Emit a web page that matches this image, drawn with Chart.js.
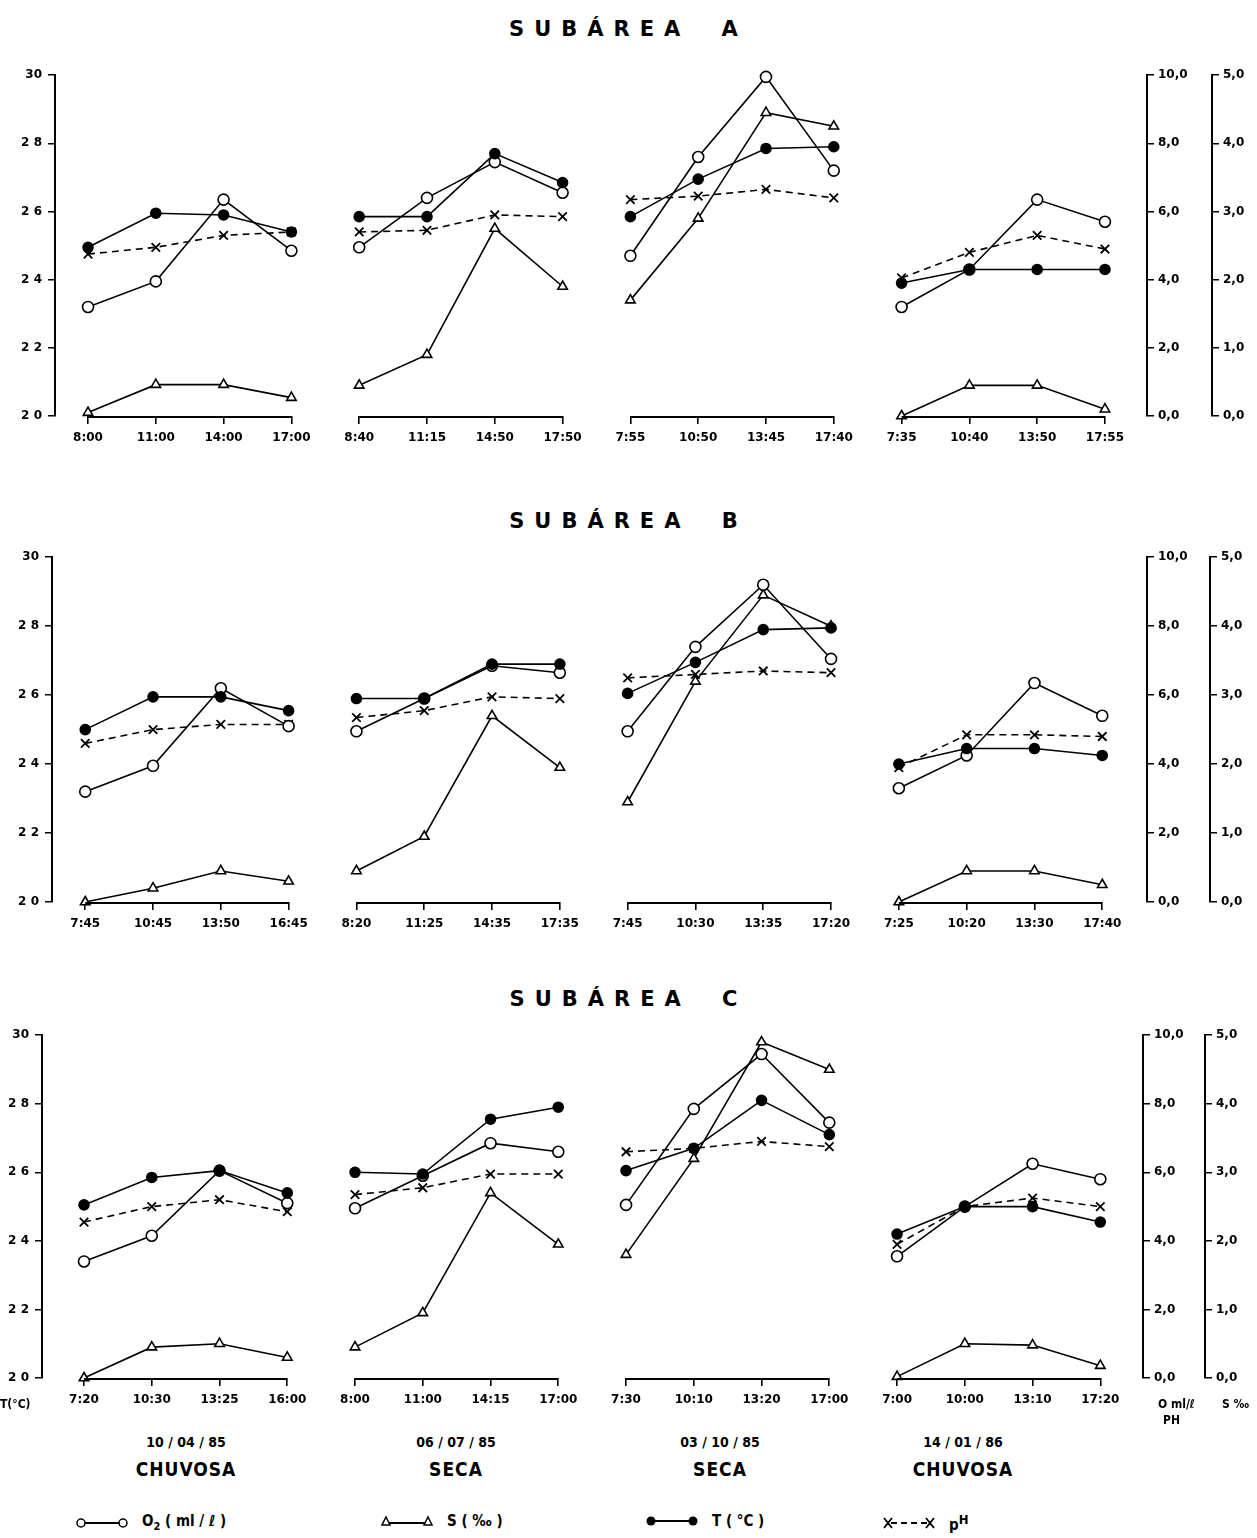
<!DOCTYPE html>
<html>
<head>
<meta charset="utf-8">
<script src="https://cdn.jsdelivr.net/npm/chart.js@4.4.0/dist/chart.umd.min.js"></script>
<style>
body { margin: 0; background: #fff; }
#page { position: relative; width: 1257px; height: 1538px; font-family: "DejaVu Sans Condensed", "DejaVu Sans", sans-serif; font-weight: bold; color: #000; }
#page canvas { position: absolute; left: 0; }
.title { position: absolute; left: 0; width: 1257px; text-align: center; font-size: 21px; letter-spacing: 10px; word-spacing: 14px; font-family: "DejaVu Sans", sans-serif; }
.lbl { position: absolute; font-size: 12px; white-space: nowrap; }
.date { position: absolute; font-size: 14px; transform: translateX(-50%); white-space: nowrap; }
.season { position: absolute; font-size: 19px; letter-spacing: 1px; transform: translateX(-50%); white-space: nowrap; }
.leg { position: absolute; top: 1512px; font-size: 15px; white-space: nowrap; display: flex; align-items: center; gap: 14px; }
</style>
</head>
<body>
<div id="page">
  <div class="title" style="top:17px">SUBÁREA A</div>
  <div class="title" style="top:509px">SUBÁREA B</div>
  <div class="title" style="top:987px">SUBÁREA C</div>
  <canvas id="chartA" width="1257" height="399" style="top:62px"></canvas>
  <canvas id="chartB" width="1257" height="403" style="top:544px"></canvas>
  <canvas id="chartC" width="1257" height="401" style="top:1022px"></canvas>
  <div class="lbl" style="left:0px;top:1397px">T(°C)</div>
  <div class="lbl" style="left:1158px;top:1397px">O ml/ℓ</div>
  <div class="lbl" style="left:1163px;top:1413px">PH</div>
  <div class="lbl" style="left:1222px;top:1397px">S ‰</div>
  <div id="bottom"></div>
  <div class="leg" style="left:76px"><svg width="52" height="14"><line x1="5" y1="7" x2="47" y2="7" stroke="#000" stroke-width="2"/><circle cx="5" cy="7" r="4" fill="#fff" stroke="#000" stroke-width="1.5"/><circle cx="47" cy="7" r="4" fill="#fff" stroke="#000" stroke-width="1.5"/></svg><span>O<sub style="font-size:11px">2</sub> ( ml / ℓ )</span></div>
  <div class="leg" style="left:381px"><svg width="52" height="14"><line x1="5" y1="9" x2="47" y2="9" stroke="#000" stroke-width="2"/><polygon points="5,3 9,11 1,11" fill="#fff" stroke="#000" stroke-width="1.5"/><polygon points="47,3 51,11 43,11" fill="#fff" stroke="#000" stroke-width="1.5"/></svg><span>S ( ‰ )</span></div>
  <div class="leg" style="left:646px"><svg width="52" height="14"><line x1="5" y1="7" x2="47" y2="7" stroke="#000" stroke-width="2"/><circle cx="5" cy="7" r="4.5" fill="#000"/><circle cx="47" cy="7" r="4.5" fill="#000"/></svg><span>T ( °C )</span></div>
  <div class="leg" style="left:883px"><svg width="52" height="14"><line x1="8" y1="7" x2="44" y2="7" stroke="#000" stroke-width="2" stroke-dasharray="6,4"/><path d="M1,2 L9,12 M9,2 L1,12 M43,2 L51,12 M51,2 L43,12" stroke="#000" stroke-width="1.8"/></svg><span>p<sup style="font-size:13px">H</sup></span></div>
</div>
<script>
// campaign dates and seasons
var dates = ['10/04/85', '06/07/85', '03/10/85', '14/01/86'];
var seasons = ['CHUVOSA', 'SECA', 'SECA', 'CHUVOSA'];

// SUBAREA A
var timesA = ['8:00', '11:00', '14:00', '17:00', '8:40', '11:15', '14:50', '17:50',
              '7:55', '10:50', '13:45', '17:40', '7:35', '10:40', '13:50', '17:55'];
var o2A   = [3.2, 3.95, 6.35, 4.85, 4.95, 6.4, 7.45, 6.55, 4.7, 7.6, 9.95, 7.2, 3.2, 4.3, 6.35, 5.7];
var salA  = [0.05, 0.46, 0.46, 0.27, 0.45, 0.9, 2.75, 1.9, 1.7, 2.9, 4.45, 4.25, 0.0, 0.45, 0.45, 0.1];
var tempA = [24.95, 25.95, 25.9, 25.4, 25.85, 25.85, 27.7, 26.85, 25.85, 26.95, 27.85, 27.9, 23.9, 24.3, 24.3, 24.3];
var phA   = [4.75, 4.95, 5.3, 5.4, 5.4, 5.45, 5.9, 5.85, 6.35, 6.45, 6.65, 6.4, 4.05, 4.8, 5.3, 4.9];

// SUBAREA B
var timesB = ['7:45', '10:45', '13:50', '16:45', '8:20', '11:25', '14:35', '17:35',
              '7:45', '10:30', '13:35', '17:20', '7:25', '10:20', '13:30', '17:40'];
var o2B   = [3.2, 3.95, 6.2, 5.1, 4.95, 5.9, 6.85, 6.65, 4.95, 7.4, 9.2, 7.05, 3.3, 4.25, 6.35, 5.4];
var salB  = [0.0, 0.2, 0.45, 0.3, 0.45, 0.95, 2.7, 1.95, 1.45, 3.2, 4.45, 4.0, 0.0, 0.45, 0.45, 0.25];
var tempB = [25.0, 25.95, 25.95, 25.55, 25.9, 25.9, 26.9, 26.9, 26.05, 26.95, 27.9, 27.95, 24.0, 24.45, 24.45, 24.25];
var phB   = [4.6, 5.0, 5.15, 5.15, 5.35, 5.55, 5.95, 5.9, 6.5, 6.6, 6.7, 6.65, 3.9, 4.85, 4.85, 4.8];

// SUBAREA C
var timesC = ['7:20', '10:30', '13:25', '16:00', '8:00', '11:00', '14:15', '17:00',
              '7:30', '10:10', '13:20', '17:00', '7:00', '10:00', '13:10', '17:20'];
var o2C   = [3.4, 4.15, 6.05, 5.1, 4.95, 5.9, 6.85, 6.6, 5.05, 7.85, 9.45, 7.45, 3.55, 5.0, 6.25, 5.8];
var salC  = [0.0, 0.45, 0.5, 0.3, 0.45, 0.95, 2.7, 1.95, 1.8, 3.2, 4.9, 4.5, 0.02, 0.5, 0.48, 0.18];
var tempC = [25.05, 25.85, 26.05, 25.4, 26.0, 25.95, 27.55, 27.9, 26.05, 26.7, 28.1, 27.1, 24.2, 25.0, 25.0, 24.55];
var phC   = [4.55, 5.0, 5.2, 4.85, 5.35, 5.55, 5.95, 5.95, 6.6, 6.7, 6.9, 6.75, 3.9, 5.0, 5.25, 5.0];

var tempTicks = [20, 22, 24, 26, 28, 30];

Chart.defaults.font.family = '"DejaVu Sans", sans-serif';
Chart.defaults.font.size = 12;
Chart.defaults.font.weight = 'bold';
Chart.defaults.color = '#000';

// bottom date / season labels
var centers = [186, 456, 720, 963];
var html = '';
dates.forEach(function (d, i) {
    html += '<div class="date" style="left:' + centers[i] + 'px;top:1434px">' + d.split('/').join(' / ') + '</div>';
    html += '<div class="season" style="left:' + centers[i] + 'px;top:1458px">' + seasons[i] + '</div>';
});
document.getElementById('bottom').innerHTML = html;

// the x axis is drawn as one short line per campaign
var axisSegments = {
    id: 'axisSegments',
    afterDraw: function (chart) {
        var xs = chart.scales.x, ctx = chart.ctx, y = chart.chartArea.bottom + 1;
        ctx.save();
        ctx.strokeStyle = '#000';
        ctx.lineWidth = 2;
        for (var k = 0; k < 4; k++) {
            ctx.beginPath();
            ctx.moveTo(xs.getPixelForValue(k * 4), y);
            ctx.lineTo(xs.getPixelForValue(k * 4 + 3), y);
            ctx.stroke();
        }
        ctx.restore();
    }
};

function pts(vals) {
    return vals.map(function (v, i) { return { x: i, y: v }; });
}

// no line between the last time of one campaign and the first of the next
function gap(color) {
    return function (c) { return c.p0DataIndex % 4 === 3 ? 'rgba(0,0,0,0)' : color; };
}

function comma(v) { return v.toFixed(1).replace('.', ','); }

function makeChart(id, times, o2, sal, temp, ph, g) {
    var ctx = document.getElementById(id).getContext('2d');
    return new Chart(ctx, {
        type: 'line',
        data: {
            datasets: [{
                label: 'T (°C)',
                data: pts(temp),
                yAxisID: 'y',
                borderColor: '#000',
                backgroundColor: '#000',
                pointBackgroundColor: '#000',
                pointStyle: 'circle',
                pointRadius: 5,
                borderWidth: 1.6,
                segment: { borderColor: gap('#000') }
            }, {
                label: 'O2 (ml/l)',
                data: pts(o2),
                yAxisID: 'y2',
                borderColor: '#000',
                pointBackgroundColor: '#fff',
                pointStyle: 'circle',
                pointRadius: 5.5,
                pointBorderWidth: 1.6,
                borderWidth: 1.6,
                segment: { borderColor: gap('#000') }
            }, {
                label: 'S (‰)',
                data: pts(sal),
                yAxisID: 'y3',
                borderColor: '#000',
                pointBackgroundColor: '#fff',
                pointStyle: 'triangle',
                pointRadius: 5.5,
                pointBorderWidth: 1.6,
                borderWidth: 1.6,
                segment: { borderColor: gap('#000') }
            }, {
                label: 'pH',
                data: pts(ph),
                yAxisID: 'y2',
                borderColor: '#000',
                pointStyle: 'crossRot',
                pointRadius: 6,
                pointBorderWidth: 1.8,
                borderWidth: 1.6,
                borderDash: [7, 5],
                segment: { borderColor: gap('#000') }
            }]
        },
        plugins: [axisSegments],
        options: {
            responsive: false,
            animation: false,
            clip: false,
            layout: { padding: { top: 12, left: 0, right: 0, bottom: 0 } },
            plugins: { legend: { display: false }, tooltip: { enabled: false } },
            scales: {
                x: {
                    type: 'linear',
                    min: g.xmin,
                    max: g.xmax,
                    afterBuildTicks: function (s) { s.ticks = times.map(function (t, i) { return { value: i }; }); },
                    afterFit: function (s) { s.height = 45; },
                    border: { display: false },
                    grid: { drawOnChartArea: false, drawTicks: true, tickLength: 8, color: '#000', lineWidth: 1.6 },
                    ticks: { padding: 7, maxRotation: 0, autoSkip: false, callback: function (v, i) { return times[i]; } }
                },
                y: {
                    position: 'left',
                    min: 20,
                    max: 30,
                    afterBuildTicks: function (s) { s.ticks = tempTicks.map(function (v) { return { value: v }; }); },
                    afterFit: function (s) { s.width = g.left; },
                    border: { display: true, color: '#000', width: 2 },
                    grid: { drawOnChartArea: false, tickLength: 7, color: '#000', lineWidth: 1.5 },
                    ticks: { padding: 6, callback: function (v) { return v === 30 ? '30' : String(v).split('').join(' '); } }
                },
                y2: {
                    position: 'right',
                    min: 0,
                    max: 10,
                    ticks: { stepSize: 2, padding: 4, callback: comma },
                    afterFit: function (s) { s.width = g.r2 - g.r1; },
                    border: { display: true, color: '#000', width: 2 },
                    grid: { drawOnChartArea: false, tickLength: 7, color: '#000', lineWidth: 1.5 }
                },
                y3: {
                    position: 'right',
                    min: 0,
                    max: 5,
                    ticks: { stepSize: 1, padding: 4, callback: comma },
                    afterFit: function (s) { s.width = 1257 - g.r2; },
                    border: { display: true, color: '#000', width: 2 },
                    grid: { drawOnChartArea: false, tickLength: 7, color: '#000', lineWidth: 1.5 }
                }
            }
        }
    });
}

makeChart('chartA', timesA, o2A, salA, tempA, phA, { left: 55, r1: 1147, r2: 1212, xmin: -0.487, xmax: 15.62 });
makeChart('chartB', timesB, o2B, salB, tempB, phB, { left: 52, r1: 1147, r2: 1210, xmin: -0.49, xmax: 15.66 });
makeChart('chartC', timesC, o2C, salC, tempC, phC, { left: 42, r1: 1143, r2: 1205, xmin: -0.62, xmax: 15.63 });
</script>
</body>
</html>
